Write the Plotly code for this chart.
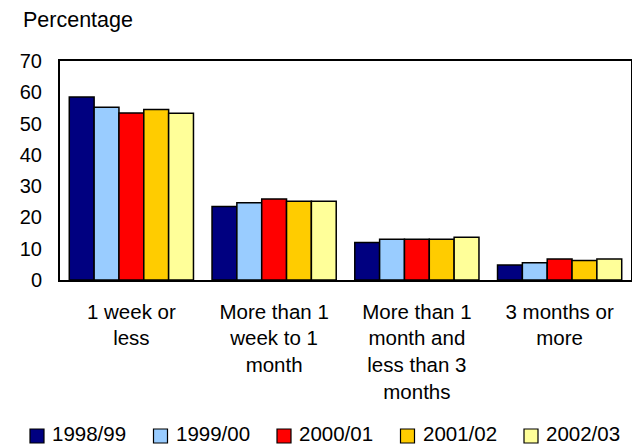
import plotly.graph_objects as go

categories = [
    "1 week or<br>less",
    "More than 1<br>week to 1<br>month",
    "More than 1<br>month and<br>less than 3<br>months",
    "3 months or<br>more",
]
years = ["1998/99", "1999/00", "2000/01", "2001/02", "2002/03"]
values = {
    "1998/99": [58.5, 23.5, 12.0, 4.8],
    "1999/00": [55.2, 24.7, 13.0, 5.5],
    "2000/01": [53.4, 25.9, 13.0, 6.7],
    "2001/02": [54.5, 25.2, 13.0, 6.2],
    "2002/03": [53.3, 25.2, 13.7, 6.7],
}
colors = ["#000080", "#99CCFF", "#FF0000", "#FFCC00", "#FFFF99"]

FONT = "Liberation Sans, Arial, sans-serif"
W, H = 632, 446
M_L, M_R, M_T, M_B = 60, 1, 61, 166
PW, PH = W - M_L - M_R, H - M_T - M_B


def px_x(x):
    return (x - M_L) / PW


def px_y(y):
    return (H - M_B - y) / PH


fig = go.Figure()
for year, color in zip(years, colors):
    fig.add_trace(go.Bar(
        name=year,
        x=categories,
        y=values[year],
        marker=dict(color=color, line=dict(color="black", width=1.5)),
        showlegend=False,
    ))

# Legend row along the bottom: bordered square swatch + label per year
shapes, annotations = [], []
for i, (year, color) in enumerate(zip(years, colors)):
    left = 30 + i * 123.5
    shapes.append(dict(
        type="rect", xref="paper", yref="paper",
        x0=px_x(left), x1=px_x(left + 14), y0=px_y(443), y1=px_y(429),
        fillcolor=color, line=dict(color="black", width=1.2),
    ))
    annotations.append(dict(
        text=year, xref="paper", yref="paper",
        x=px_x(left + 20), y=px_y(434), xanchor="left", yanchor="middle",
        showarrow=False, font=dict(size=20.5),
    ))

annotations.append(dict(
    text="Percentage", xref="paper", yref="paper",
    x=px_x(21), y=px_y(20), xanchor="left", yanchor="middle",
    showarrow=False, font=dict(size=21.5),
))

fig.update_layout(
    width=W, height=H,
    margin=dict(l=M_L, r=M_R, t=M_T, b=M_B),
    paper_bgcolor="white", plot_bgcolor="white",
    barmode="group", bargap=0.13, bargroupgap=0,
    font=dict(family=FONT, size=20, color="black"),
    showlegend=False,
    shapes=shapes,
    annotations=annotations,
)
fig.update_xaxes(
    showline=True, linecolor="black", linewidth=2, mirror=True,
    ticks="", tickfont=dict(size=20.5), showgrid=False,
    ticklabelstandoff=12, automargin=False,
)
fig.update_yaxes(
    range=[0, 70], dtick=10, showline=True, linecolor="black", linewidth=2,
    mirror=True, ticks="", showgrid=False, zeroline=False,
    tickfont=dict(size=20), ticklabelstandoff=12, automargin=False,
)

fig.write_html("out.html")
